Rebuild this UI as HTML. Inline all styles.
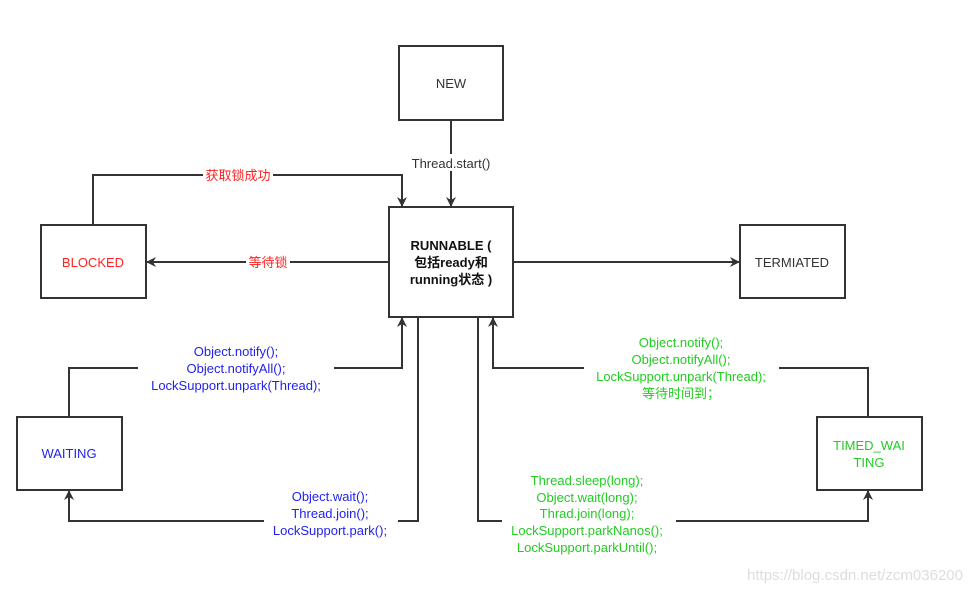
<!DOCTYPE html>
<html><head><meta charset="utf-8"><style>
html,body{margin:0;padding:0;background:#fff;}
svg{display:block;}
text{font-family:"Liberation Sans","Noto Sans CJK SC",sans-serif;font-size:13px;}
</style></head><body>
<svg width="972" height="592" viewBox="0 0 972 592" xmlns="http://www.w3.org/2000/svg">
<defs>
<marker id="a" markerWidth="10" markerHeight="10" refX="9" refY="5" orient="auto" markerUnits="userSpaceOnUse">
<path d="M0,0 L10,5 L0,10 L3,5 z" fill="#333"/>
</marker>
</defs>
<g fill="none" stroke="#333" stroke-width="2">
<rect x="399" y="46" width="104" height="74" fill="#fff"/>
<rect x="389" y="207" width="124" height="110" fill="#fff"/>
<rect x="41" y="225" width="105" height="73" fill="#fff"/>
<rect x="740" y="225" width="105" height="73" fill="#fff"/>
<rect x="17" y="417" width="105" height="73" fill="#fff"/>
<rect x="817" y="417" width="105" height="73" fill="#fff"/>
<path d="M451,120 V206" marker-end="url(#a)"/>
<path d="M93,225 V175 H402 V206" marker-end="url(#a)"/>
<path d="M389,262 H147" marker-end="url(#a)"/>
<path d="M513,262 H739" marker-end="url(#a)"/>
<path d="M69,417 V368 H402 V318" marker-end="url(#a)"/>
<path d="M418,317 V521 H69 V491" marker-end="url(#a)"/>
<path d="M868,417 V368 H493 V318" marker-end="url(#a)"/>
<path d="M478,317 V521 H868 V491" marker-end="url(#a)"/>
</g>
<g fill="#fff">
<rect x="405" y="154" width="94" height="17"/>
<rect x="203" y="167" width="70" height="16"/>
<rect x="246" y="254" width="44" height="16"/>
<rect x="138" y="342" width="196" height="52"/>
<rect x="264" y="488" width="134" height="50"/>
<rect x="584" y="334" width="195" height="68"/>
<rect x="502" y="472" width="174" height="84"/>
</g>
<g text-anchor="middle">
<text x="451" y="88" fill="#333">NEW</text>
<text x="451" y="168" fill="#333">Thread.start()</text>
<text x="238" y="180" fill="#f22">获取锁成功</text>
<text x="268" y="267" fill="#f22">等待锁</text>
<text x="93" y="267" fill="#f22">BLOCKED</text>
<text x="792" y="267" fill="#333">TERMIATED</text>
<g font-weight="bold" fill="#111">
<text x="451" y="250">RUNNABLE (</text>
<text x="451" y="267">包括ready和</text>
<text x="451" y="284">running状态 )</text>
</g>
<text x="69" y="458" fill="#22e">WAITING</text>
<g fill="#22e">
<text x="236" y="356">Object.notify();</text>
<text x="236" y="373">Object.notifyAll();</text>
<text x="236" y="390">LockSupport.unpark(Thread);</text>
<text x="330" y="501">Object.wait();</text>
<text x="330" y="518">Thread.join();</text>
<text x="330" y="535">LockSupport.park();</text>
</g>
<g fill="#2c2">
<text x="869" y="450">TIMED_WAI</text>
<text x="869" y="467">TING</text>
<text x="681" y="347">Object.notify();</text>
<text x="681" y="364">Object.notifyAll();</text>
<text x="681" y="381">LockSupport.unpark(Thread);</text>
<text x="681" y="398">等待时间到；</text>
<text x="587" y="485">Thread.sleep(long);</text>
<text x="587" y="502">Object.wait(long);</text>
<text x="587" y="518">Thrad.join(long);</text>
<text x="587" y="535">LockSupport.parkNanos();</text>
<text x="587" y="552">LockSupport.parkUntil();</text>
</g>
</g>
<text x="963" y="580" text-anchor="end" fill="#ddd" style="font-size:15px">https://blog.csdn.net/zcm036200</text>
</svg>
</body></html>
